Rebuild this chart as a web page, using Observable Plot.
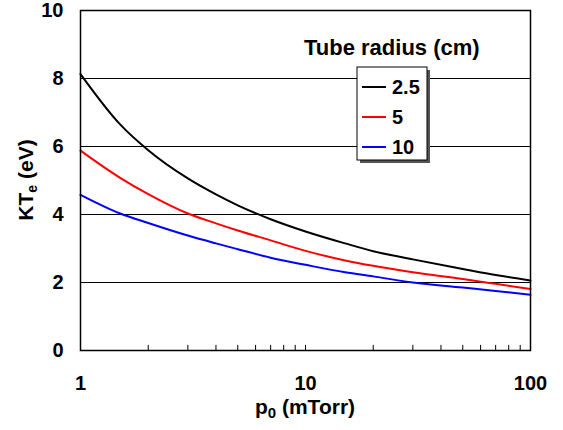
<!DOCTYPE html>
<html><head><meta charset="utf-8">
<script src="https://cdn.jsdelivr.net/npm/d3@7"></script>
<script src="https://cdn.jsdelivr.net/npm/@observablehq/plot@0.6"></script>
<style>
body{margin:0;background:#fff}
#chart svg{font-family:"Liberation Sans",Arial,sans-serif;}
</style>
</head><body><div id="chart"></div>
<script>
const pressures = [1, 1.5, 2, 3, 4, 5, 7, 10, 15, 20, 30, 50, 70, 100];
const radius25 = [8.13, 6.65, 5.89, 5.06, 4.59, 4.27, 3.86, 3.5, 3.15, 2.92, 2.68, 2.4, 2.22, 2.06];
const radius5  = [5.88, 5.08, 4.6, 4.03, 3.74, 3.53, 3.24, 2.93, 2.65, 2.49, 2.3, 2.1, 1.96, 1.81];
const radius10 = [4.58, 4.03, 3.75, 3.38, 3.15, 2.98, 2.73, 2.52, 2.3, 2.18, 2.0, 1.85, 1.75, 1.64];
const seriesNames = ["2.5", "5", "10"];
const seriesColors = ["#000000", "#ff0000", "#0000ff"];
const yTicks = [0, 2, 4, 6, 8, 10];
const gridValues = [2, 4, 6, 8];
const xTicks = [1, 10, 100];
const minorTicks = [2, 3, 4, 5, 6, 7, 8, 9, 10, 20, 30, 40, 50, 60, 70, 80, 90];
const legendTitle = "Tube radius (cm)";

const seriesValues = [radius25, radius5, radius10];
const data = seriesNames.flatMap((s, i) => pressures.map((p, j) => ({series: s, p, v: seriesValues[i][j]})));

const plot = Plot.plot({
  width: 563, height: 430,
  marginLeft: 80, marginRight: 33, marginTop: 10, marginBottom: 80,
  x: {type: "log", domain: [1, 100]},
  y: {domain: [0, 10]},
  color: {domain: seriesNames, range: seriesColors},
  style: {fontFamily: "'Liberation Sans', Arial, sans-serif", fontSize: "20px", fontWeight: "bold", color: "#000", background: "#fff"},
  marks: [
    Plot.ruleY(gridValues, {stroke: "#000", strokeWidth: 1}),
    Plot.ruleX(minorTicks, {y1: 0, y2: 0.15, stroke: "#000", strokeWidth: 1}),
    Plot.line(data, {x: "p", y: "v", z: "series", stroke: "series", strokeWidth: 2, curve: "monotone-x"}),
    Plot.frame({stroke: "#000", strokeWidth: 1.5}),
    Plot.axisX({ticks: xTicks, tickSize: 0, tickPadding: 25, tickFormat: d => String(d), label: null}),
    Plot.axisY({ticks: yTicks, tickSize: 0, tickPadding: 17, tickFormat: d => String(d), label: null})
  ]
});
document.getElementById("chart").appendChild(plot);

const svg = d3.select(plot);
const font = "'Liberation Sans', Arial, sans-serif";

// Y axis title with subscript
const yl = svg.append("text")
  .attr("transform", "translate(33,180) rotate(-90)")
  .attr("text-anchor", "middle")
  .attr("font-family", font).attr("font-weight", "bold").attr("font-size", 21).attr("fill", "#000");
yl.append("tspan").text("KT");
yl.append("tspan").attr("font-size", 14).attr("dy", 4).text("e");
yl.append("tspan").attr("dy", -4).text(" (eV)");

// X axis title with subscript
const xl = svg.append("text")
  .attr("x", 305).attr("y", 414)
  .attr("text-anchor", "middle")
  .attr("font-family", font).attr("font-weight", "bold").attr("font-size", 21).attr("fill", "#000");
xl.append("tspan").text("p");
xl.append("tspan").attr("font-size", 15).attr("dy", 4).text("0");
xl.append("tspan").attr("dy", -4).text(" (mTorr)");

// Legend title
svg.append("text").attr("x", 304).attr("y", 55).attr("text-anchor", "start")
  .attr("font-family", font).attr("font-weight", "bold").attr("font-size", 22).attr("fill", "#000")
  .text(legendTitle);

// Legend box
const lg = svg.append("g").attr("transform", "translate(357,67)");
lg.append("rect").attr("x", 3).attr("y", 3).attr("width", 70).attr("height", 93).attr("fill", "#555");
lg.append("rect").attr("x", 0).attr("y", 0).attr("width", 70).attr("height", 93).attr("fill", "#fff").attr("stroke", "#000").attr("stroke-width", 1);
seriesNames.forEach((s, i) => {
  const cy = 20 + i * 30;
  lg.append("line").attr("x1", 5).attr("x2", 29).attr("y1", cy).attr("y2", cy).attr("stroke", seriesColors[i]).attr("stroke-width", 2);
  lg.append("text").attr("x", 35).attr("y", cy + 7).attr("text-anchor", "start")
    .attr("font-family", font).attr("font-weight", "bold").attr("font-size", 20).attr("fill", "#000").text(s);
});
</script>
</body></html>
